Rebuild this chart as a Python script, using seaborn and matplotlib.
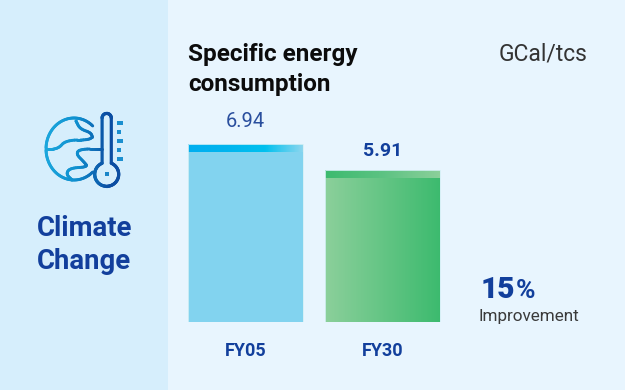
import numpy as np
import pandas as pd
import seaborn as sns
import matplotlib.pyplot as plt
from matplotlib.collections import LineCollection
from matplotlib.patches import Rectangle

years = ['FY05', 'FY30']
values = [6.94, 5.91]
value_labels = ['6.94', '5.91']
title = 'Specific energy\nconsumption'
unit = 'GCal/tcs'
side_label = 'Climate\nChange'
pct = '15'
pct_note = 'Improvement'

navy = '#123f9c'
W, H = 625, 390
FONT = 'Roboto'


def chaikin(pts, n=3):
    pts = np.array(pts, dtype=float)
    for _ in range(n):
        a = pts[:-1] * 0.75 + pts[1:] * 0.25
        b = pts[:-1] * 0.25 + pts[1:] * 0.75
        mid = np.empty((len(a) * 2, 2))
        mid[0::2] = a
        mid[1::2] = b
        pts = np.vstack([pts[0], mid, pts[-1]])
    return pts


def grad_line(ax, pts, lw=2.1):
    # icon strokes go from teal on the left to blue on the right
    cmap = sns.blend_palette(['#1ba6dc', '#0f8fcf', '#0b4da2'], as_cmap=True)
    pts = np.asarray(pts)
    segs = np.stack([pts[:-1], pts[1:]], axis=1)
    cols = cmap((segs[:, :, 0].mean(axis=1) - 46) / 62)
    ax.add_collection(LineCollection(segs, colors=cols, linewidths=lw, capstyle='round'))


def draw_icon(ax):
    t = np.radians(np.linspace(-48, -312, 120))
    grad_line(ax, np.c_[74 + 28 * np.cos(t), 149 + 31 * np.sin(t)])
    top = [(76, 121), (80, 129), (92, 133), (92, 140), (66, 140), (58, 149), (47, 149)]
    low = [(102, 149), (80, 149), (76, 154), (84, 162), (88, 167), (70, 168), (66, 174), (72, 180)]
    grad_line(ax, chaikin(top))
    grad_line(ax, chaikin(low))
    # thermometer
    x0, yb, r, hw = 106.7, 174.3, 12.0, 4.6
    a = np.radians(np.linspace(67.5, -247.5, 80))
    bulb = np.c_[x0 + r * np.cos(a), yb - r * np.sin(a)]
    cap = np.radians(np.linspace(180, 0, 20))
    tube_top = np.c_[x0 + hw * np.cos(cap), 118 - hw * np.sin(cap)]
    tube = np.vstack([bulb[-1:], tube_top, bulb[:1]])
    grad_line(ax, tube, lw=2.3)
    grad_line(ax, bulb, lw=2.3)
    ax.add_patch(Rectangle((x0 - 2, yb - 2), 4, 4, color='#1b86c8', lw=0))
    for yy, ww in zip([122.5, 131.5, 140.5, 149.5, 158.5], [6, 4, 6, 4, 6]):
        ax.add_patch(Rectangle((116.5, yy - 2), ww, 4, color='#1b8fcf', lw=0))


def fill_bar(ax, bar, body, band, band_h):
    x, w, h = bar.get_x(), bar.get_width(), bar.get_height()
    grad = np.linspace(0, 1, 116)[None, :]
    xs = np.linspace(x, x + w, 117)
    body_cmap = sns.blend_palette(body, as_cmap=True)
    band_cmap = sns.blend_palette(band, as_cmap=True)
    ax.pcolormesh(xs, [0, h], grad, cmap=body_cmap, zorder=3, antialiased=False)
    ax.pcolormesh(xs, [h - band_h, h], grad, cmap=band_cmap, zorder=4, antialiased=False)
    # the bar itself stays on top as a faint light outline
    bar.set_facecolor('none')
    bar.set_edgecolor('#d4f0f5')
    bar.set_linewidth(0.6)
    bar.set_zorder(5)


sns.set_theme(style='white')
plt.rcParams['font.family'] = [FONT, 'DejaVu Sans']

fig = plt.figure(figsize=(W / 100, H / 100), dpi=100, facecolor='#e8f5fe')

bg = fig.add_axes([0, 0, 1, 1])
bg.set_xlim(0, W)
bg.set_ylim(H, 0)
bg.axis('off')
bg.add_patch(Rectangle((0, 0), 168, H, color='#d6eefc', lw=0))
draw_icon(bg)

fig.text(84.5 / W, 1 - 245 / H, side_label, ha='center', va='center', fontsize=19.8,
         fontweight='bold', color=navy, linespacing=1.25)
fig.text(188 / W, 1 - 69.5 / H, title, ha='left', va='center', fontsize=17.5,
         fontweight='bold', color='#0c0c0c', linespacing=1.35)
fig.text(587 / W, 1 - 54 / H, unit, ha='right', va='center', fontsize=16.5, color='#333333')
fig.text(481 / W, 1 - 298 / H, pct, ha='left', va='baseline', fontsize=21.5,
         fontweight='black', color=navy)
fig.text(515.5 / W, 1 - 298 / H, '%', ha='left', va='baseline', fontsize=19,
         fontweight='bold', color=navy)
fig.text(478.5 / W, 1 - 321 / H, pct_note, ha='left', va='baseline', fontsize=12.3, color='#3a3a3a')

# bars: 137 px between centres, 25.58 px per unit
ax = fig.add_axes([177.25 / W, 1 - 321.5 / H, 274 / W, 204.6 / H])
ax.patch.set_alpha(0)
df = pd.DataFrame({'year': years, 'value': values})
sns.barplot(data=df, x='year', y='value', hue='year', palette=['#82d3ef', '#5fc585'],
            width=0.843, legend=False, linewidth=0, errorbar=None, ax=ax)

bars = list(ax.patches)
fill_bar(ax, bars[0], ['#82d3ef', '#82d3ef'], ['#00aeef', '#00b4ee', '#00c0ee', '#8ed6ee'], 0.31)
fill_bar(ax, bars[1], ['#8bcf9a', '#3cba6e'], ['#3cba6e', '#5cc282', '#8bcf9a'], 0.31)

styles = [('normal', '#2a4f9e', 14.5, 12.6), ('bold', navy, 14, 10.5)]
for bar, label, (weight, col, size, off) in zip(bars, value_labels, styles):
    ax.annotate(label, (bar.get_x() + bar.get_width() / 2, bar.get_height()),
                xytext=(0, off), textcoords='offset points', ha='center', va='baseline',
                fontsize=size, fontweight=weight, color=col)

ax.set_xlim(-0.5, 1.5)
ax.set_ylim(0, 8)
ax.set_xlabel('')
ax.set_ylabel('')
ax.set_yticks([])
ax.tick_params(axis='x', length=0, pad=15)
for lab in ax.get_xticklabels():
    lab.set_fontsize(13)
    lab.set_fontweight('bold')
    lab.set_color(navy)
sns.despine(ax=ax, left=True, bottom=True)

fig.savefig('out.png', dpi=100, facecolor=fig.get_facecolor())
